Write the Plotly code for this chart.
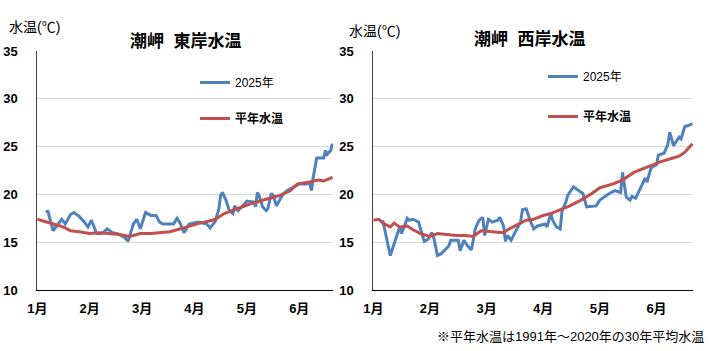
import plotly.graph_objects as go

# ---- data (day index from Jan 1, value in °C) ----
months = ["1月", "2月", "3月", "4月", "5月", "6月"]
month_pos = [0, 30, 60, 90, 120, 150]

east_2025_day = [5, 6, 9, 11, 14, 16, 19, 21, 24, 27, 29, 31, 34, 37, 40, 43, 46, 50, 52, 55, 57, 59, 62,
                 65, 68, 70, 72, 78, 80, 82, 84, 87, 92, 97, 99, 102, 104, 105, 106, 108, 110, 112, 113,
                 115, 120, 124, 125, 126, 127, 129, 131, 132, 134, 135, 137, 139, 141, 144, 147, 150, 154,
                 156, 157, 158, 160, 162, 164, 165, 166, 168, 169]
east_2025_temp = [18.1, 18.3, 16.2, 16.7, 17.4, 16.9, 17.9, 18.1, 17.7, 17.1, 16.6, 17.3, 15.9, 15.9, 16.4,
                  16.0, 15.9, 15.5, 15.1, 16.9, 17.4, 16.4, 18.1, 17.8, 17.8, 17.1, 16.9, 16.9, 17.5, 16.9,
                  16.0, 16.9, 17.1, 16.9, 16.5, 17.2, 18.5, 19.9, 20.2, 19.4, 18.3, 18.0, 18.8, 18.3, 19.3,
                  19.2, 18.7, 20.2, 19.9, 18.7, 18.3, 18.5, 20.1, 19.9, 18.8, 19.5, 20.1, 20.5, 20.8, 21.1,
                  21.1, 21.2, 20.4, 21.8, 23.8, 23.8, 23.8, 24.6, 24.2, 24.6, 25.3]

east_norm_day = [0, 4, 7, 10, 13, 16, 19, 24, 30, 36, 41, 47, 53, 59, 65, 70, 76, 82, 87, 93, 98, 102,
                 107, 112, 116, 122, 127, 133, 139, 145, 149, 153, 156, 161, 164, 168, 169]
east_norm_temp = [17.4, 17.2, 17.0, 16.9, 16.7, 16.5, 16.2, 16.1, 15.9, 16.0, 15.9, 15.8, 15.6, 15.9,
                  15.9, 16.0, 16.1, 16.4, 16.7, 17.0, 17.2, 17.4, 18.0, 18.3, 18.6, 19.0, 19.3, 19.6,
                  19.9, 20.4, 21.1, 21.2, 21.3, 21.5, 21.4, 21.7, 21.8]

west_2025_day = [5, 9, 14, 15, 18, 19, 21, 24, 25, 27, 29, 31, 32, 34, 36, 40, 41, 45, 46, 48, 50, 52,
                 54, 56, 58, 59, 61, 63, 66, 67, 69, 70, 71, 73, 75, 78, 79, 81, 83, 85, 87, 91, 92, 94,
                 95, 97, 99, 100, 102, 103, 106, 109, 111, 113, 116, 118, 120, 123, 125, 128, 131, 132,
                 133, 134, 136, 137, 139, 141, 143, 144, 145, 147, 148, 150, 151, 154, 156, 157, 159,
                 162, 163, 165, 167, 169]
west_2025_temp = [17.3, 13.6, 16.6, 15.9, 17.5, 17.3, 17.4, 17.1, 16.4, 15.1, 15.3, 16.0, 15.5, 13.6,
                  13.8, 14.6, 15.2, 15.2, 14.1, 15.2, 14.6, 14.2, 16.4, 17.3, 17.6, 15.7, 17.4, 17.1,
                  17.3, 17.6, 16.7, 15.1, 15.7, 15.2, 16.0, 17.1, 18.4, 18.5, 17.3, 16.4, 16.7, 16.9,
                  16.6, 18.0, 17.3, 16.6, 16.4, 18.3, 19.2, 19.9, 20.8, 20.4, 20.1, 18.7, 18.8, 18.8,
                  19.4, 19.8, 20.1, 20.4, 20.2, 22.3, 20.8, 19.7, 19.4, 19.8, 19.6, 20.4, 21.3, 21.7,
                  21.3, 22.7, 22.9, 23.1, 24.1, 24.3, 25.2, 26.5, 25.1, 26.0, 25.8, 27.1, 27.2, 27.4]

west_norm_day = [0, 3, 5, 9, 11, 14, 18, 21, 25, 30, 34, 39, 44, 49, 53, 57, 64, 69, 72, 78, 81, 85, 90,
                 94, 99, 104, 110, 115, 120, 127, 132, 138, 143, 148, 152, 157, 162, 165, 169]
west_norm_temp = [17.3, 17.4, 17.0, 16.6, 17.0, 16.6, 16.7, 16.3, 15.9, 15.6, 15.9, 15.8, 15.7, 15.7,
                  15.6, 16.2, 16.1, 16.0, 16.4, 17.0, 17.3, 17.4, 17.8, 18.0, 18.4, 18.8, 19.4, 20.0,
                  20.7, 21.1, 21.5, 22.3, 22.7, 23.1, 23.4, 23.7, 24.0, 24.4, 25.3]

BLUE = "#4f81bd"
RED = "#c0504d"
FONT = "Liberation Sans, Noto Sans CJK JP, sans-serif"

fig = go.Figure()
fig.add_trace(go.Scatter(x=east_2025_day, y=east_2025_temp, mode="lines", name="2025年",
                         line=dict(color=BLUE, width=3), xaxis="x", yaxis="y", legend="legend"))
fig.add_trace(go.Scatter(x=east_norm_day, y=east_norm_temp, mode="lines", name="<b>平年水温</b>",
                         line=dict(color=RED, width=3), xaxis="x", yaxis="y", legend="legend",
                         legendgroup="b"))
fig.add_trace(go.Scatter(x=west_2025_day, y=west_2025_temp, mode="lines", name="2025年",
                         line=dict(color=BLUE, width=3), xaxis="x2", yaxis="y2", legend="legend2"))
fig.add_trace(go.Scatter(x=west_norm_day, y=west_norm_temp, mode="lines", name="<b>平年水温</b>",
                         line=dict(color=RED, width=3), xaxis="x2", yaxis="y2", legend="legend2",
                         legendgroup="b"))

W, H = 721, 351
ydom = [(H - 290) / H, (H - 51) / H]

def xax(dom, anchor):
    return dict(domain=dom, anchor=anchor, range=[0, 169.5], tickmode="array", tickvals=month_pos,
                ticktext=months, showgrid=False, zeroline=False, showline=True, linecolor="#000000",
                linewidth=1, ticks="", ticklabelstandoff=6, automargin=False,
                tickfont=dict(family=FONT, size=13, color="#000000", weight="bold"))

def yax(anchor):
    return dict(domain=ydom, anchor=anchor, range=[10, 35], tickvals=[10, 15, 20, 25, 30, 35],
                showgrid=True, gridcolor="#d9d9d9", gridwidth=1, zeroline=False, showline=True,
                linecolor="#404040", linewidth=1, ticks="", ticklabelstandoff=16, automargin=False,
                tickfont=dict(family=FONT, size=13, color="#000000", weight="bold"))

fig.update_layout(
    width=W, height=H, margin=dict(l=0, r=0, t=0, b=0, autoexpand=False),
    paper_bgcolor="white", plot_bgcolor="white",
    xaxis=xax([37.3 / W, 333.3 / W], "y"),
    yaxis=yax("x"),
    xaxis2=xax([373.3 / W, 693.3 / W], "y2"),
    yaxis2=yax("x2"),
    legend=dict(x=195 / W, y=1 - 68 / H, xanchor="left", yanchor="top", bgcolor="rgba(0,0,0,0)",
                font=dict(family=FONT, size=12, color="#000000"), tracegroupgap=17, itemwidth=30),
    legend2=dict(x=543 / W, y=1 - 62 / H, xanchor="left", yanchor="top", bgcolor="rgba(0,0,0,0)",
                 font=dict(family=FONT, size=12, color="#000000"), tracegroupgap=21, itemwidth=30),
    showlegend=True,
    annotations=[
        dict(text="<b>潮岬\u00a0\u00a0東岸水温</b>", x=185 / W, y=1 - 41 / H, xref="paper", yref="paper",
             showarrow=False, xanchor="center", yanchor="middle",
             font=dict(family=FONT, size=17, color="#000000")),
        dict(text="<b>潮岬\u00a0\u00a0西岸水温</b>", x=529 / W, y=1 - 39 / H, xref="paper", yref="paper",
             showarrow=False, xanchor="center", yanchor="middle",
             font=dict(family=FONT, size=17, color="#000000")),
        dict(text="水温(℃)", x=7 / W, y=1 - 27 / H, xref="paper", yref="paper", showarrow=False,
             xanchor="left", yanchor="middle", font=dict(family=FONT, size=14, color="#000000")),
        dict(text="水温(℃)", x=347 / W, y=1 - 31 / H, xref="paper", yref="paper", showarrow=False,
             xanchor="left", yanchor="middle", font=dict(family=FONT, size=14, color="#000000")),
        dict(text="※平年水温は1991年～2020年の30年平均水温", x=706 / W, y=1 - 336 / H, xref="paper",
             yref="paper", showarrow=False, xanchor="right", yanchor="middle",
             font=dict(family=FONT, size=13, color="#000000")),
    ],
)

fig.write_html("out.html")
